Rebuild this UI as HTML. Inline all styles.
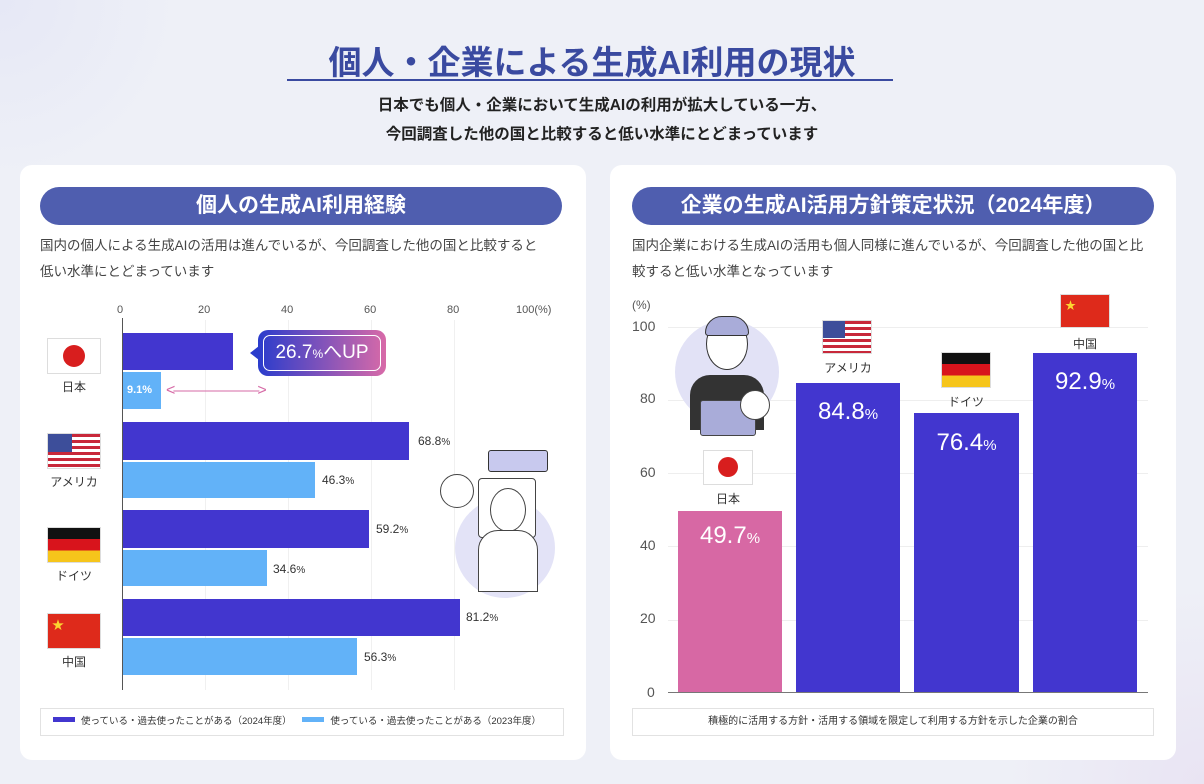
<!DOCTYPE html>
<html><head><meta charset="utf-8"><style>
*{margin:0;padding:0;box-sizing:border-box}
body{width:1204px;height:784px;background:#eef0f7;font-family:"Liberation Sans","Noto Sans CJK JP",sans-serif;position:relative;overflow:hidden;color:#333}
.a{position:absolute}
.panel{position:absolute;top:165px;width:566px;height:595px;background:#fff;border-radius:12px}
.pill{position:absolute;top:187px;height:38px;background:#4f5eaf;border-radius:19px;color:#fff;font-size:21px;font-weight:bold;text-align:center;line-height:38px}
.desc{font-size:13.5px;line-height:26px;color:#444}
.tick{font-size:11px;color:#555}
.bd{background:#4236cf}
.bl{background:#62b2f8}
.v{font-size:12px;color:#333}
.lab{font-size:12px;color:#333;text-align:center;width:60px}
.flag{width:54px;height:36px;border:1px solid #ddd}
</style></head><body>
<div class="a" style="left:0;top:0;width:1204px;height:784px;background:radial-gradient(circle at 0 0,#e6e8f6 0,transparent 180px),radial-gradient(circle at 1204px 784px,#e9e4f3 0,transparent 200px)"></div>
<div class="a" style="left:287px;top:36px;width:610px;text-align:center;font-size:33px;font-weight:bold;color:#3a4aa0;letter-spacing:0px">個人・企業による生成AI利用の現状</div>
<div class="a" style="left:287px;top:79px;width:606px;height:2px;background:#3a4aa0"></div>
<div class="a" style="left:0;top:91px;width:1204px;text-align:center;font-size:15.5px;font-weight:bold;line-height:29px;color:#222">日本でも個人・企業において生成AIの利用が拡大している一方、<br>今回調査した他の国と比較すると低い水準にとどまっています</div>

<div class="panel" style="left:20px"></div>
<div class="panel" style="left:610px"></div>
<div class="pill" style="left:40px;width:522px">個人の生成AI利用経験</div>
<div class="pill" style="left:632px;width:522px">企業の生成AI活用方針策定状況（2024年度）</div>
<div class="a desc" style="left:40px;top:233px;width:505px">国内の個人による生成AIの活用は進んでいるが、今回調査した他の国と比較すると低い水準にとどまっています</div>
<div class="a desc" style="left:632px;top:233px;width:515px">国内企業における生成AIの活用も個人同様に進んでいるが、今回調査した他の国と比較すると低い水準となっています</div>

<!-- left chart -->
<div class="a tick" style="left:117px;top:304px">0</div>
<div class="a tick" style="left:198px;top:304px">20</div>
<div class="a tick" style="left:281px;top:304px">40</div>
<div class="a tick" style="left:364px;top:304px">60</div>
<div class="a tick" style="left:447px;top:304px">80</div>
<div class="a tick" style="left:516px;top:304px">100(%)</div>
<div class="a" style="left:205px;top:320px;width:1px;height:370px;background:#f0f0f0"></div>
<div class="a" style="left:288px;top:320px;width:1px;height:370px;background:#f0f0f0"></div>
<div class="a" style="left:371px;top:320px;width:1px;height:370px;background:#f0f0f0"></div>
<div class="a" style="left:454px;top:320px;width:1px;height:370px;background:#f0f0f0"></div>
<div class="a" style="left:122px;top:318px;width:1px;height:372px;background:#555"></div>

<div class="a bd" style="left:123px;top:333px;width:110px;height:37px"></div>
<div class="a bl" style="left:123px;top:372px;width:38px;height:37px"></div>
<div class="a" style="left:127px;top:384px;font-size:11px;color:#fff;font-weight:bold">9.1%</div>
<div class="a" style="left:166px;top:382px;color:#d66aa6;font-size:16px;letter-spacing:-2px">&lt;——————&gt;</div>
<div class="a" style="left:258px;top:330px;width:128px;height:46px;border-radius:10px;background:linear-gradient(90deg,#2a3ccc,#d86aa8)"></div>
<div class="a" style="left:250px;top:346px;width:0;height:0;border:7px solid transparent;border-right:9px solid #2a3ccc;border-left:0"></div>
<div class="a" style="left:263px;top:335px;width:118px;height:36px;border:1.5px solid #fff;border-radius:7px;color:#fff;font-size:19px;text-align:center;line-height:33px">26.7<span style="font-size:12px">%</span>へUP</div>

<div class="a bd" style="left:123px;top:422px;width:286px;height:38px"></div>
<div class="a bl" style="left:123px;top:462px;width:192px;height:36px"></div>
<div class="a v" style="left:418px;top:434px">68.8<small>%</small></div>
<div class="a v" style="left:322px;top:473px">46.3<small>%</small></div>
<div class="a bd" style="left:123px;top:510px;width:246px;height:38px"></div>
<div class="a bl" style="left:123px;top:550px;width:144px;height:36px"></div>
<div class="a v" style="left:376px;top:522px">59.2<small>%</small></div>
<div class="a v" style="left:273px;top:562px">34.6<small>%</small></div>
<div class="a bd" style="left:123px;top:599px;width:337px;height:37px"></div>
<div class="a bl" style="left:123px;top:638px;width:234px;height:37px"></div>
<div class="a v" style="left:466px;top:610px">81.2<small>%</small></div>
<div class="a v" style="left:364px;top:650px">56.3<small>%</small></div>

<!-- left flags -->
<div class="a flag" style="left:47px;top:338px;background:#fff"><div style="width:22px;height:22px;border-radius:50%;background:#d81e1e;margin:6px auto"></div></div>
<div class="a lab" style="left:44px;top:378px">日本</div>
<div class="a flag" style="left:47px;top:433px;background:repeating-linear-gradient(#c8283a 0 3px,#fff 3px 6px)"><div style="width:24px;height:18px;background:#3d4e9a"></div></div>
<div class="a lab" style="left:44px;top:473px">アメリカ</div>
<div class="a flag" style="left:47px;top:527px;background:linear-gradient(#111 0 33%,#d8141c 33% 66%,#f6c51b 66%)"></div>
<div class="a lab" style="left:44px;top:567px">ドイツ</div>
<div class="a flag" style="left:47px;top:613px;background:#de2a1b;color:#fcd531;font-size:12px;padding:2px 4px">★</div>
<div class="a lab" style="left:44px;top:653px">中国</div>

<!-- person illustration -->
<div class="a" style="left:455px;top:498px;width:100px;height:100px;border-radius:50%;background:#e3e3f7"></div>
<div class="a" style="left:488px;top:450px;width:60px;height:22px;border:1.5px solid #333;background:#c8c9ee;border-radius:3px"></div>
<div class="a" style="left:478px;top:478px;width:58px;height:60px;border:1.5px solid #444;border-radius:4px;background:#fff"></div>
<div class="a" style="left:440px;top:474px;width:34px;height:34px;border:1.5px solid #444;border-radius:50%;background:#fff"></div>
<div class="a" style="left:490px;top:488px;width:36px;height:44px;border:1.5px solid #444;border-radius:50%;background:#fff"></div>
<div class="a" style="left:478px;top:530px;width:60px;height:62px;border:1.5px solid #444;border-radius:20px 20px 0 0;background:#fff"></div>

<div class="a" style="left:40px;top:708px;width:524px;height:28px;border:1px solid #e2e2e2;font-size:9.5px;line-height:26px;color:#333;white-space:nowrap">
<span style="display:inline-block;width:22px;height:5px;background:#4236cf;margin:0 6px 2px 12px"></span>使っている・過去使ったことがある（2024年度）
<span style="display:inline-block;width:22px;height:5px;background:#62b2f8;margin:0 6px 2px 8px"></span>使っている・過去使ったことがある（2023年度）</div>

<!-- right chart -->
<div class="a tick" style="left:632px;top:298px;font-size:12px">(%)</div>
<div class="a tick" style="left:632px;top:318px;font-size:14px">100</div>
<div class="a tick" style="left:640px;top:390px;font-size:14px">80</div>
<div class="a tick" style="left:640px;top:464px;font-size:14px">60</div>
<div class="a tick" style="left:640px;top:537px;font-size:14px">40</div>
<div class="a tick" style="left:640px;top:610px;font-size:14px">20</div>
<div class="a tick" style="left:647px;top:684px;font-size:14px">0</div>
<div class="a" style="left:668px;top:327px;width:480px;height:1px;background:#eee"></div>
<div class="a" style="left:668px;top:400px;width:480px;height:1px;background:#eee"></div>
<div class="a" style="left:668px;top:473px;width:480px;height:1px;background:#eee"></div>
<div class="a" style="left:668px;top:546px;width:480px;height:1px;background:#eee"></div>
<div class="a" style="left:668px;top:620px;width:480px;height:1px;background:#eee"></div>
<div class="a" style="left:668px;top:692px;width:480px;height:1px;background:#777"></div>

<div class="a" style="left:678px;top:511px;width:104px;height:181px;background:#d768a4"></div>
<div class="a bd" style="left:796px;top:383px;width:104px;height:309px"></div>
<div class="a bd" style="left:914px;top:413px;width:105px;height:279px"></div>
<div class="a bd" style="left:1033px;top:353px;width:104px;height:339px"></div>
<div class="a" style="left:678px;top:522px;width:104px;text-align:center;color:#fff;font-size:24px">49.7<small style="font-size:15px">%</small></div>
<div class="a" style="left:796px;top:398px;width:104px;text-align:center;color:#fff;font-size:24px">84.8<small style="font-size:15px">%</small></div>
<div class="a" style="left:914px;top:429px;width:105px;text-align:center;color:#fff;font-size:24px">76.4<small style="font-size:15px">%</small></div>
<div class="a" style="left:1033px;top:368px;width:104px;text-align:center;color:#fff;font-size:24px">92.9<small style="font-size:15px">%</small></div>

<div class="a flag" style="left:703px;top:450px;width:50px;height:35px;background:#fff"><div style="width:20px;height:20px;border-radius:50%;background:#d81e1e;margin:6px auto"></div></div>
<div class="a lab" style="left:698px;top:490px">日本</div>
<div class="a flag" style="left:822px;top:320px;width:50px;height:34px;background:repeating-linear-gradient(#c8283a 0 3px,#fff 3px 6px)"><div style="width:22px;height:17px;background:#3d4e9a"></div></div>
<div class="a lab" style="left:818px;top:359px">アメリカ</div>
<div class="a flag" style="left:941px;top:352px;width:50px;height:36px;background:linear-gradient(#111 0 33%,#d8141c 33% 66%,#f6c51b 66%)"></div>
<div class="a lab" style="left:936px;top:393px">ドイツ</div>
<div class="a flag" style="left:1060px;top:294px;width:50px;height:34px;background:#de2a1b;color:#fcd531;font-size:11px;padding:2px 4px">★</div>
<div class="a lab" style="left:1055px;top:335px">中国</div>

<div class="a" style="left:675px;top:320px;width:104px;height:104px;border-radius:50%;background:#e2e2f6"></div>
<div class="a" style="left:706px;top:318px;width:42px;height:52px;border:1.5px solid #333;border-radius:50%;background:#fff"></div>
<div class="a" style="left:705px;top:316px;width:44px;height:20px;border-radius:20px 20px 4px 4px;background:#a9acd9;border:1.5px solid #333"></div>
<div class="a" style="left:690px;top:375px;width:74px;height:55px;background:#333;border-radius:20px 20px 0 0"></div>
<div class="a" style="left:700px;top:400px;width:56px;height:36px;background:#a9acd9;border:1.5px solid #444;border-radius:3px"></div>
<div class="a" style="left:740px;top:390px;width:30px;height:30px;border-radius:50%;background:#fff;border:1.5px solid #444"></div>

<div class="a" style="left:632px;top:708px;width:522px;height:28px;border:1px solid #e2e2e2;font-size:10px;line-height:26px;text-align:center;color:#333">積極的に活用する方針・活用する領域を限定して利用する方針を示した企業の割合</div>
</body></html>
